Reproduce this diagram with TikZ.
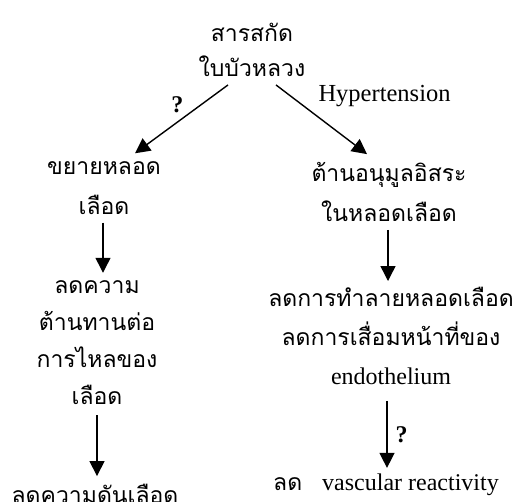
\documentclass[tikz,border=0pt]{standalone}
\usepackage{fontspec}
\setmainfont{Liberation Serif}
\newfontfamily\thaifont[Script=Thai]{Loma}
\usetikzlibrary{positioning,arrows.meta}

\tikzset{
	txt/.style={align=center, inner sep=0pt, font=\thaifont\fontsize{23}{37}\selectfont},
	arr/.style={line width=1.4pt, -{Triangle[length=15pt,width=15pt]}},
	qmark/.style={font=\rmfamily\bfseries\fontsize{24}{24}\selectfont, inner sep=2pt},
}

\begin{document}
\begin{tikzpicture}[x=1pt, y=-1pt]
	\useasboundingbox (0,0) rectangle (516,502);
	
	% สารสกัด
	\node[txt, font=\thaifont\fontsize{23}{35}\selectfont] (src) at (252,50) {สารสกัด\\ใบบัวหลวง};
	
	% ด้านซ้าย
	\node[txt, font=\thaifont\fontsize{23}{40}\selectfont] (vaso) at (104,188) {ขยายหลอด\\เลือด};
	\node[txt] (resist) at (97,343) {ลดความ\\ต้านทานต่อ\\การไหลของ\\เลือด};
	\node[txt] (bp) at (95,494) {ลดความดันเลือด};
	
	% ด้านขวา
	\node[txt, font=\thaifont\fontsize{23}{40}\selectfont] (anti) at (389,192) {ต้านอนุมูลอิสระ\\ในหลอดเลือด};
	\node[txt, font=\thaifont\fontsize{23}{39}\selectfont] (damage) at (391,336) {ลดการทำลายหลอดเลือด\\ลดการเสื่อมหน้าที่ของ\\{\rmfamily\fontsize{24}{24}\selectfont endothelium}};
	\node[txt] (react) at (386,485) {ลด\hspace{20pt}{\rmfamily\fontsize{24}{24}\selectfont vascular reactivity}};
	
	% ลูกศร
	\draw[arr] ([xshift=-24pt, yshift=-8pt]src.south) -- ([xshift=31pt, yshift=8pt]vaso.north)
		node[qmark, pos=.45, above left] {?};
	\draw[arr] ([xshift=24pt, yshift=-8pt]src.south) -- ([xshift=-22pt, yshift=8pt]anti.north)
		node[pos=.35, anchor=south west, inner sep=0pt, xshift=10pt, yshift=2pt, font=\rmfamily\fontsize{24.5}{24}\selectfont] {Hypertension};
	\draw[arr] ([xshift=-1pt, yshift=-8pt]vaso.south) -- ([xshift=6pt, yshift=8pt]resist.north);
	\draw[arr] ([yshift=-10pt]resist.south) -- ([xshift=2pt, yshift=8pt]bp.north);
	\draw[arr] ([xshift=-1pt, yshift=-8pt]anti.south) -- ([xshift=-3pt, yshift=6pt]damage.north);
	\draw[arr] ([xshift=-4pt, yshift=-16pt]damage.south) -- ([xshift=1pt, yshift=6pt]react.north)
		node[qmark, midway, right, xshift=6pt] {?};
	
\end{tikzpicture}
\end{document}
